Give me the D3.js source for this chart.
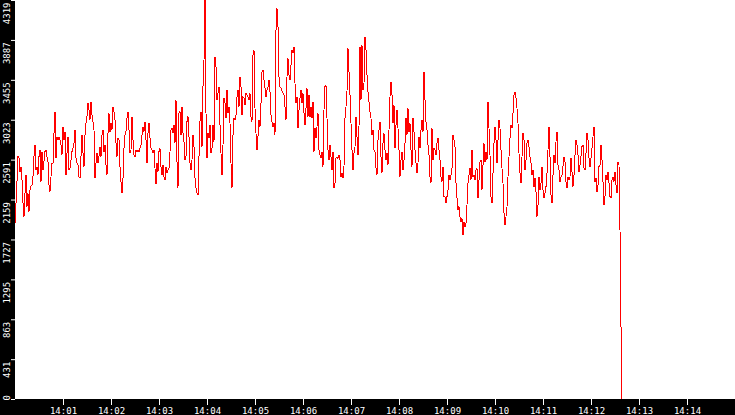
<!DOCTYPE html>
<html>
<head>
<meta charset="utf-8">
<script src="https://cdn.jsdelivr.net/npm/d3@7"></script>
<style>
    html, body { margin: 0; padding: 0; background: #000; overflow: hidden; }
    .axis text { fill: #fff; font-family: "DejaVu Sans Mono", monospace; font-size: 9px; }
    .axis line { stroke: #fff; }
</style>
</head>
<body>
<div id="chart"></div>
<script>
// time window shown on the x axis and sampling interval of the series
const startTime = new Date(2024, 0, 1, 14, 0, 0);
const endTime = new Date(2024, 0, 1, 14, 15, 0);
const sampleSeconds = 1.25;

const yTickValues = [0, 431, 863, 1295, 1727, 2159, 2591, 3023, 3455, 3887, 4319];
const xTickLabels = ['14:01', '14:02', '14:03', '14:04', '14:05', '14:06', '14:07',
    '14:08', '14:09', '14:10', '14:11', '14:12', '14:13', '14:14'];

// one reading per sample, starting at 14:00:00
const samples = [
    1902, 2119, 2353, 2624, 2606, 2461, 2515, 2371, 2119, 1974,
    2227, 2425, 2083, 2227, 2028, 2263, 2306, 2317, 2407, 2624,
    2750, 2479, 2515, 2425, 2624, 2696, 2353, 2678, 2479, 2570,
    2678, 2696, 2624, 2570, 2317, 2245, 2407, 2552, 2552, 2876,
    3111, 2606, 2840, 2804, 2840, 2804, 2750, 2642, 2948, 2804,
    2894, 2425, 2660, 2840, 2479, 2497, 2588, 2678, 2714, 2768,
    2912, 2606, 2552, 2533, 2407, 2389, 2624, 2858, 2660, 2515,
    2858, 2985, 3057, 3201, 3129, 3021, 3219, 3075, 3003, 2912,
    2389, 2552, 2660, 2552, 2624, 2732, 2624, 2858, 2912, 2678,
    2750, 2533, 2425, 2876, 3093, 2894,
    2985, 2912, 3165, 3111, 3021, 2768, 2624, 2822, 2804, 2515,
    2353, 2227, 2389, 2714, 2858, 2894, 3039, 3111, 2912, 2660,
    2696, 3057, 2804, 2642, 2624, 2696, 2678, 2689, 2678, 2714,
    2750, 2858, 2948, 2894, 3003, 2804, 2552, 2876, 2985, 2822,
    2714, 2696, 2660, 2696, 2497, 2328, 2552, 2461, 2678, 2714,
    2515, 2425, 2533, 2407, 2371, 2515, 2443, 2479, 2497, 2678,
    2912, 2930, 2876, 2966, 2768, 3237, 2570, 2281, 3093, 3111,
    2858, 3165, 2876, 2786, 2588, 2624, 3003, 3057, 2840, 2552,
    2479, 2588, 2858, 2732, 2389, 2281, 2227, 2209, 2624, 3003,
    3111, 2732, 3381, 3670,
    4319, 3092, 2605, 2876, 2822, 2966, 2659, 2713, 2966, 2786,
    3706, 3597, 3237, 3309, 3381, 2966, 2659, 2425, 2749, 3255,
    3201, 3038, 3345, 3092, 3164, 2984, 2551, 2281, 2858, 3038,
    3020, 3074, 3273, 3345, 3164, 3489, 3381, 3074, 3273, 3255,
    3183, 3309, 3291, 3273, 3237, 3309, 3056, 3002, 3724, 3778,
    3146, 2876, 2695, 2840, 3020, 2948, 3201, 3543, 3561, 3453,
    3363, 3273, 3345, 3381, 3453, 3327, 3074, 3002, 2948, 2984,
    2858, 3994, 4229, 4030, 3489, 3381, 3363, 3338, 3309, 3291,
    3164, 3020, 3489, 3688, 3507, 3453, 3615, 3778, 3742, 3814,
    3417, 3201, 3273, 2930, 3128, 3255,
    3345, 3200, 3308, 3092, 2966, 3146, 3363, 3056, 3290, 3056,
    3164, 3038, 3218, 2677, 2930, 2821, 2948, 3092, 2695, 2641,
    2605, 2677, 2515, 3128, 3381, 3399, 3038, 2695, 2587, 2749,
    2623, 2479, 2677, 2280, 2334, 2605, 2623, 2605, 2641, 2587,
    2407, 2443, 2388, 2515, 3038, 3164, 3327, 3796, 3543, 3290,
    2984, 2695, 2479, 2659, 2731, 3056, 2839, 2641, 2948, 3814,
    3236, 3832, 3345, 3417, 3922, 3778, 3507, 3327, 3218, 3110,
    3038, 2857, 2912, 2695, 2677, 2497, 2425, 2803, 2912, 3002,
    2623, 2443, 2767, 2876,
    2696, 2588, 2660, 2533, 2912, 3273, 3435, 3291, 2985, 3183,
    2714, 2966, 3129, 2930, 2696, 2407, 2588, 2678, 2479, 2588,
    2768, 3039, 2858, 3147, 2894, 2985, 2696, 2515, 3039, 2894,
    2696, 2552, 2443, 2552, 2840, 2714, 2912, 3021, 2894, 3544,
    3237, 3003, 2912, 2750, 2642, 2407, 2335, 2930, 2588, 2714,
    2696, 2642, 2768, 2822, 2696, 2588, 2407, 2353, 2515, 2191,
    2191, 2119, 2191, 2263, 2425, 2371, 2425, 2497, 2858, 2804,
    2732, 2335, 2173, 2046, 2083, 1974, 1920, 1956, 1776, 1920,
    1866, 1902, 2101, 2335, 2425,
    2497, 2371, 2695, 2407, 2425, 2371, 2479, 2497, 2172, 2371,
    2569, 2587, 2262, 2533, 2768, 2569, 2677, 2587, 3218, 2930,
    2641, 2190, 2118, 2443, 2768, 2948, 2803, 2551, 2803, 3020,
    2930, 2695, 2497, 2334, 2010, 1884, 1974, 2082, 2407, 2623,
    2822, 2966, 2930, 3092, 3291, 3327, 3255, 3146, 2984, 2659,
    2443, 2334, 2623, 2876, 2803, 2479, 2587, 2768, 2803, 2731,
    2623, 2551, 2425, 2479, 2298, 2389, 2244, 1974, 2100, 2407,
    2262, 2334, 2515, 2262, 2172, 2226, 2298, 2443, 2695, 2948,
    2623, 2208, 2118, 2425, 2641,
    2551, 2786, 2894, 2533, 2479, 2353, 2407, 2425, 2515, 2624,
    2570, 2353, 2281, 2407, 2371, 2407, 2606, 2461, 2299, 2425,
    2642, 2804, 2750, 2642, 2461, 2533, 2624, 2732, 2750, 2497,
    2479, 2660, 2876, 2804, 2606, 2515, 2606, 2714, 2840, 2948,
    2353, 2389, 2245, 2317, 2515, 2533, 2750, 2588, 2353, 2101,
    2191, 2425, 2371, 2461, 2335, 2191, 2173, 2371, 2407, 2353,
    2461, 2317, 2227, 2570, 2533,
    1829, 779, 0
];

const width = 735;
const height = 415;
const margin = { top: 0, right: 0, bottom: 16, left: 15 };
const plotBottom = height - margin.bottom;

const svg = d3.select("#chart")
    .append("svg")
    .attr("width", width)
    .attr("height", height);

svg.append("rect")
    .attr("width", width)
    .attr("height", height)
    .attr("fill", "#000");

svg.append("rect")
    .attr("x", margin.left)
    .attr("y", margin.top)
    .attr("width", width - margin.left - margin.right)
    .attr("height", plotBottom - margin.top)
    .attr("fill", "#fff");

const x = d3.scaleTime()
    .domain([startTime, endTime])
    .range([margin.left, width - margin.right]);

const y = d3.scaleLinear()
    .domain([0, d3.max(yTickValues)])
    .range([plotBottom, margin.top]);

const sampleTime = i => new Date(startTime.getTime() + i * sampleSeconds * 1000);

const xTickTimes = xTickLabels.map(label => {
    const [h, m] = label.split(":").map(Number);
    return new Date(2024, 0, 1, h, m, 0);
});

// X axis in the black strip under the plot
const xAxis = svg.append("g")
    .attr("class", "axis")
    .attr("transform", `translate(0, ${plotBottom})`)
    .call(d3.axisBottom(x)
        .tickValues(xTickTimes)
        .tickFormat(d3.timeFormat("%H:%M"))
        .tickSize(6));
xAxis.select(".domain").remove();

// Y axis, labels turned to read upwards
const yAxis = svg.append("g")
    .attr("class", "axis")
    .attr("transform", `translate(${margin.left}, 0)`)
    .call(d3.axisLeft(y)
        .tickValues(yTickValues)
        .tickFormat(d3.format("d"))
        .tickSize(4));
yAxis.select(".domain").remove();
yAxis.selectAll("text")
    .attr("x", null)
    .attr("dy", null)
    .attr("text-anchor", d => d === 0 ? "start" : "end")
    .attr("transform", d => d === 0 ? "translate(-5.5, 1) rotate(-90)" : "translate(-5.5, 2) rotate(-90)");

const line = d3.line()
    .x((d, i) => x(sampleTime(i)))
    .y(d => y(d));

svg.append("path")
    .datum(samples)
    .attr("fill", "none")
    .attr("stroke", "#ff0000")
    .attr("stroke-width", 1)
    .attr("shape-rendering", "crispEdges")
    .attr("d", line);
</script>
</body>
</html>
